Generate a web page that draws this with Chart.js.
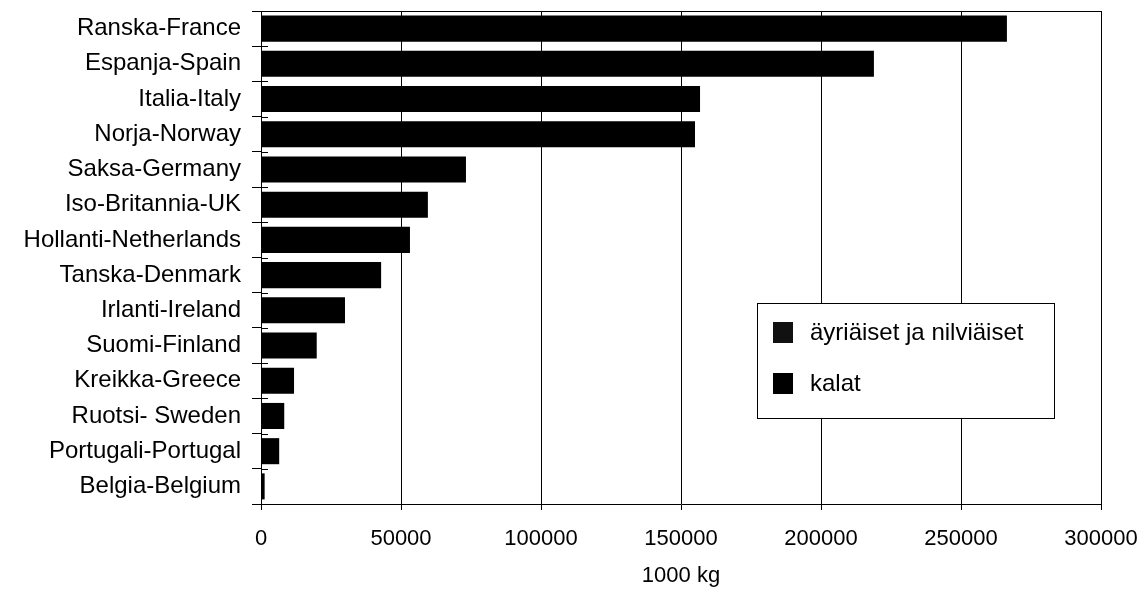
<!DOCTYPE html>
<html>
<head>
<meta charset="utf-8">
<title>Tuonti maittain</title>
<script src="https://cdn.jsdelivr.net/npm/chart.js@4"></script>
<style>
  html, body { margin: 0; padding: 0; background: #fff; }
  #wrap { width: 1142px; height: 589px; }
</style>
</head>
<body>
<div id="wrap"><canvas id="importChart" width="1142" height="589"></canvas></div>
<script>
// ---------------------------Data------------------------------------------------
const countries = [
  "Ranska-France", "Espanja-Spain", "Italia-Italy", "Norja-Norway",
  "Saksa-Germany", "Iso-Britannia-UK", "Hollanti-Netherlands", "Tanska-Denmark",
  "Irlanti-Ireland", "Suomi-Finland", "Kreikka-Greece", "Ruotsi- Sweden",
  "Portugali-Portugal", "Belgia-Belgium"
];
// both series are drawn solid black in the original, so the split can't be read;
// the whole bar length goes to "kalat"
const shellfish = [0, 0, 0, 0, 0, 0, 0, 0, 0, 0, 0, 0, 0, 0];
const fish = [266400, 218900, 156800, 155000, 73200, 59600, 53200, 42900, 30000, 19900, 11800, 8300, 6500, 1300];
const xTicks = [0, 50000, 100000, 150000, 200000, 250000, 300000];
const seriesNames = ["äyriäiset ja nilviäiset", "kalat"];
const axisTitle = "1000 kg";

const FONT = "'Liberation Sans', Arial, Helvetica, sans-serif";

// legend box drawn inside the plot, like the original
const boxLegend = {
  id: "boxLegend",
  afterDatasetsDraw(chart) {
    const ctx = chart.ctx;
    const x = 757, y = 303, w = 297, h = 115;
    ctx.save();
    ctx.fillStyle = "#fff";
    ctx.fillRect(x, y, w, h);
    ctx.strokeStyle = "#000";
    ctx.lineWidth = 1;
    ctx.strokeRect(x + 0.5, y + 0.5, w, h);
    ctx.font = "24px " + FONT;
    ctx.textBaseline = "middle";
    chart.data.datasets.forEach((ds, i) => {
      const cy = 332 + i * 51;
      ctx.fillStyle = ds.backgroundColor;
      ctx.fillRect(773, cy - 10, 20, 21);
      ctx.fillStyle = "#000";
      ctx.fillText(ds.label, 810, cy + 1);
    });
    // top frame line of the plot area
    const a = chart.chartArea;
    ctx.beginPath();
    ctx.moveTo(a.left, a.top + 0.5);
    ctx.lineTo(a.right, a.top + 0.5);
    ctx.stroke();
    // tick marks cross the y axis a little, as in the original
    const yScale = chart.scales.y;
    for (let i = 0; i <= countries.length; i++) {
      const py = Math.round(yScale.top + i * (yScale.bottom - yScale.top) / countries.length) + 0.5;
      ctx.beginPath();
      ctx.moveTo(a.left, py);
      ctx.lineTo(a.left + 7, py);
      ctx.stroke();
    }
    ctx.restore();
  }
};

const ctx = document.getElementById("importChart").getContext("2d");
new Chart(ctx, {
  type: "bar",
  data: {
    labels: countries,
    datasets: [
      {
        label: seriesNames[0],
        data: shellfish,
        backgroundColor: "#111",
        barPercentage: 0.74,
        categoryPercentage: 1,
      },
      {
        label: seriesNames[1],
        data: fish,
        backgroundColor: "#000",
        barPercentage: 0.74,
        categoryPercentage: 1,
      },
    ],
  },
  options: {
    indexAxis: "y",
    responsive: false,
    animation: false,
    layout: { padding: { top: 11, right: 41, left: 0, bottom: 0 } },
    plugins: {
      legend: { display: false },
      tooltip: { enabled: false },
    },
    scales: {
      x: {
        stacked: true,
        min: 0,
        max: 300000,
        afterBuildTicks: (scale) => { scale.ticks = xTicks.map(v => ({ value: v })); },
        afterFit: (scale) => {
          scale.height = 85;
          scale.paddingLeft = 0;
          scale.paddingRight = 0;
        },
        grid: { color: "#000", lineWidth: 1, tickLength: 6 },
        border: { color: "#000", width: 1 },
        ticks: {
          color: "#000",
          font: { family: FONT, size: 22 },
          padding: 16,
          maxRotation: 0,
          callback: (v) => String(v),
        },
        title: {
          display: true,
          text: axisTitle,
          color: "#000",
          font: { family: FONT, size: 22 },
          padding: { top: 0, bottom: 0 },
        },
      },
      y: {
        stacked: true,
        afterFit: (scale) => {
          scale.width = 261;
          scale.paddingTop = 0;
          scale.paddingBottom = 0;
        },
        grid: { offset: true, drawOnChartArea: false, color: "#000", tickLength: 9 },
        border: { color: "#000", width: 1 },
        ticks: {
          color: "#000",
          font: { family: FONT, size: 24 },
          padding: 11,
          autoSkip: false,
        },
      },
    },
  },
  plugins: [boxLegend],
});
</script>
</body>
</html>
